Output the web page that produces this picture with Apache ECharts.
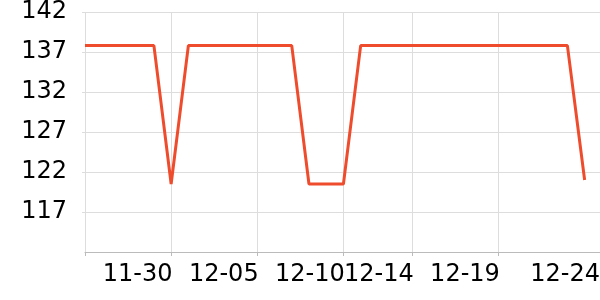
<!DOCTYPE html>
<html><head><meta charset="utf-8">
<script src="https://cdn.jsdelivr.net/npm/echarts@6/dist/echarts.min.js"></script>
<style>html,body{margin:0;padding:0;background:#fff;overflow:hidden}#c{width:603px;height:300px}</style>
</head><body><div id="c"></div>
<script>
const dates = ['11-25','11-26','11-27','11-28','11-29','11-30','12-01','12-02','12-03','12-04','12-05','12-06','12-07','12-08','12-09','12-10','12-11','12-12','12-13','12-14','12-15','12-16','12-17','12-18','12-19','12-20','12-21','12-22','12-23','12-24'];
const values = [137.8,137.8,137.8,137.8,137.8,120.5,137.8,137.8,137.8,137.8,137.8,137.8,137.8,120.5,120.5,120.5,137.8,137.8,137.8,137.8,137.8,137.8,137.8,137.8,137.8,137.8,137.8,137.8,137.8,121];
const gridIdx = [0,5,10,15,19,24];
const labelIdx = [5,10,15,19,24,29];
const yTicks = [117,122,127,132,137,142];

const chart = echarts.init(document.getElementById('c'), null, {renderer:'canvas'});
chart.setOption({
  animation:false,
  grid:{left:85,right:1,top:11,bottom:48,containLabel:false},
  xAxis:{
    type:'category', data:dates, boundaryGap:false, max:30,
    axisLine:{show:true,lineStyle:{color:'#bbbbbb',width:1}},
    axisTick:{show:true,length:4,interval:(i)=>gridIdx.includes(i),lineStyle:{color:'#bbbbbb'}},
    splitLine:{show:true,interval:(i)=>gridIdx.includes(i),lineStyle:{color:'#dddddd',width:1}},
    axisLabel:{
      show:true, interval:(i)=>labelIdx.includes(i), margin:11,
      color:'#000', fontSize:24, fontFamily:'DejaVu Sans',
      formatter:(v,i)=> i===29 ? '{b|'+v+'}' : '{a|'+v+'}',
      rich:{
        a:{fontSize:24,fontFamily:'DejaVu Sans',color:'#000',padding:[0,67,0,0]},
        b:{fontSize:24,fontFamily:'DejaVu Sans',color:'#000',padding:[0,39,0,0]}
      }
    }
  },
  yAxis:{
    type:'value', min:112, max:142, interval:5,
    axisLine:{show:false},
    axisTick:{show:true,length:3,lineStyle:{color:'#dddddd'}},
    splitLine:{show:true,lineStyle:{color:'#dddddd',width:1}},
    axisLabel:{showMinLabel:false,margin:18,color:'#000',fontSize:24,fontFamily:'DejaVu Sans',
      formatter:(v)=> yTicks.includes(v) ? String(v) : ''}
  },
  series:[{type:'line',data:values,symbol:'none',lineStyle:{color:'#ee4c2c',width:3},itemStyle:{color:'#ee4c2c'}}]
});
</script></body></html>
